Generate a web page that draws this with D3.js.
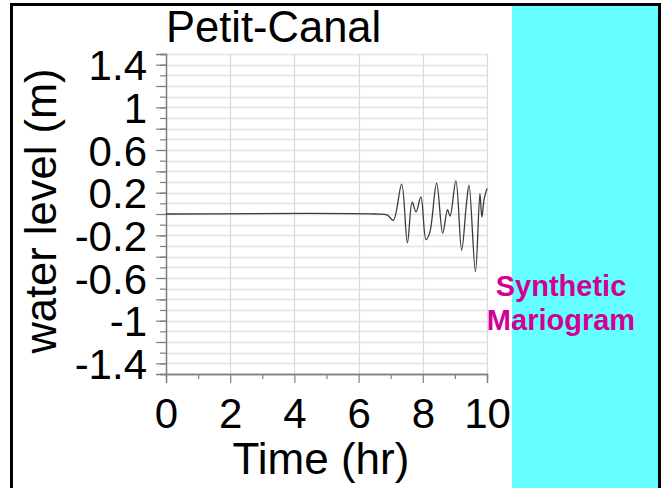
<!DOCTYPE html>
<html>
<head>
<meta charset="utf-8">
<script src="https://cdn.jsdelivr.net/npm/d3@7"></script>
<style>
  html, body { margin: 0; padding: 0; background: #fff; }
  svg { display: block; }
  text { font-family: "Liberation Sans", Arial, Helvetica, sans-serif; }
</style>
</head>
<body>
<svg id="chart" width="667" height="488"></svg>
<script>
// Synthetic tide-gauge record (hours since event, water level in metres)
const hours = [0, 6.5, 6.9, 7.08, 7.34, 7.52, 7.67, 7.79, 7.94, 8.10, 8.22, 8.43, 8.62, 8.77, 8.85, 9.03, 9.21, 9.36, 9.44, 9.64, 9.78, 9.84, 9.91, 10.0];
const level = [0, 0, -0.01, -0.06, 0.28, -0.27, 0.11, 0.02, 0.16, -0.24, -0.17, 0.29, -0.18, 0.04, -0.02, 0.31, -0.34, 0.10, 0.27, -0.54, 0.19, -0.03, 0.14, 0.24];

// Axis labels
const xTickLabels = [0, 2, 4, 6, 8, 10];
const xMinorTicks = [1, 3, 5, 7, 9];
const yTickLabels = [1.4, 1, 0.6, 0.2, -0.2, -0.6, -1, -1.4];

const title = "Petit-Canal";
const xTitle = "Time (hr)";
const yTitle = "water level (m)";
const sideNote = ["Synthetic", "Mariogram"];

const svg = d3.select("#chart");

const plot = { left: 166, right: 487, top: 54, bottom: 374 };
const x = d3.scaleLinear().domain([0, 10]).range([plot.left, plot.right]);
const y = d3.scaleLinear().domain([-1.5, 1.5]).range([plot.bottom, plot.top]);

// Cyan side panel
svg.append("rect")
  .attr("x", 512).attr("y", 3).attr("width", 147).attr("height", 490)
  .attr("fill", "#66ffff");

// Outer frame
svg.append("rect")
  .attr("x", 11.5).attr("y", 4.5).attr("width", 648).attr("height", 500)
  .attr("fill", "none").attr("stroke", "#000").attr("stroke-width", 3);

// Gridlines
const gridMinor = d3.range(-15, 16).map(d => d / 10);
svg.append("g")
  .selectAll("line.h")
  .data(gridMinor.filter(d => d > -1.5))
  .join("line")
  .attr("x1", plot.left).attr("x2", plot.right)
  .attr("y1", d => Math.round(y(d)) + 0.5).attr("y2", d => Math.round(y(d)) + 0.5)
  .attr("stroke", "#e2e2e2").attr("stroke-width", 1.3);

svg.append("g")
  .selectAll("line.v")
  .data([2, 4, 6, 8, 10])
  .join("line")
  .attr("x1", d => Math.round(x(d)) + 0.5).attr("x2", d => Math.round(x(d)) + 0.5)
  .attr("y1", plot.top).attr("y2", plot.bottom)
  .attr("stroke", "#d8d8d8").attr("stroke-width", 1.2);

// Y axis: minor ticks every 0.1, longer ones every 0.2, labels every 0.4
const yMinor = d3.axisLeft(y).tickValues(gridMinor).tickSize(6).tickFormat("");
const yMajor = d3.axisLeft(y).tickValues(d3.range(-14, 15, 2).map(d => d / 10)).tickSize(10).tickFormat("");
const yLab = d3.axisLeft(y).tickValues(yTickLabels).tickSize(0).tickPadding(19).tickFormat(d => String(d));

[yMinor, yMajor].forEach(ax => {
  const g = svg.append("g").attr("transform", `translate(${plot.left},0)`).call(ax);
  g.select(".domain").attr("stroke", "#808080").attr("stroke-width", 1.3);
  g.selectAll(".tick line").attr("stroke", "#808080").attr("stroke-width", 1.2);
});
const yl = svg.append("g").attr("transform", `translate(${plot.left},0)`).call(yLab);
yl.select(".domain").remove();
yl.selectAll("text")
  .attr("font-size", 42).attr("fill", "#000")
  .attr("font-family", "'Liberation Sans', Arial, sans-serif")
  .attr("dy", "0.36em");

// X axis
const xMin = d3.axisBottom(x).tickValues(xMinorTicks).tickSize(5).tickFormat("");
const xMaj = d3.axisBottom(x).tickValues(xTickLabels).tickSize(9).tickPadding(15).tickFormat(d => String(d));
svg.append("g").attr("transform", `translate(0,${plot.bottom})`).call(xMin)
  .call(g => g.select(".domain").attr("stroke", "#808080").attr("stroke-width", 1.3))
  .call(g => g.selectAll(".tick line").attr("stroke", "#808080").attr("stroke-width", 1.2));
const xg = svg.append("g").attr("transform", `translate(0,${plot.bottom})`).call(xMaj);
xg.select(".domain").attr("stroke", "#808080").attr("stroke-width", 1.3);
xg.selectAll(".tick line").attr("stroke", "#808080").attr("stroke-width", 1.2);
xg.selectAll("text")
  .attr("font-size", 42).attr("fill", "#000")
  .attr("font-family", "'Liberation Sans', Arial, sans-serif");

// Water level trace
const line = d3.line()
  .x((d, i) => x(hours[i]))
  .y(d => y(d))
  .curve(d3.curveCatmullRom.alpha(0.5));
svg.append("path")
  .datum(level)
  .attr("d", line)
  .attr("fill", "none")
  .attr("stroke", "#3a3a3a")
  .attr("stroke-width", 1.3);

// Titles
svg.append("text")
  .attr("x", 166).attr("y", 42)
  .attr("font-size", 43.5).attr("fill", "#000")
  .text(title);

svg.append("text")
  .attr("x", 321).attr("y", 474)
  .attr("text-anchor", "middle")
  .attr("font-size", 44).attr("fill", "#000")
  .text(xTitle);

svg.append("text")
  .attr("transform", "translate(56,211) rotate(-90)")
  .attr("text-anchor", "middle")
  .attr("font-size", 43.5).attr("fill", "#000")
  .text(yTitle);

// Side caption
svg.append("text")
  .attr("x", 561).attr("y", 296)
  .attr("text-anchor", "middle")
  .attr("font-size", 29).attr("font-weight", "bold").attr("fill", "#d10096")
  .selectAll("tspan")
  .data(sideNote)
  .join("tspan")
  .attr("x", 561)
  .attr("dy", (d, i) => i === 0 ? 0 : 34)
  .text(d => d);
</script>
</body>
</html>
